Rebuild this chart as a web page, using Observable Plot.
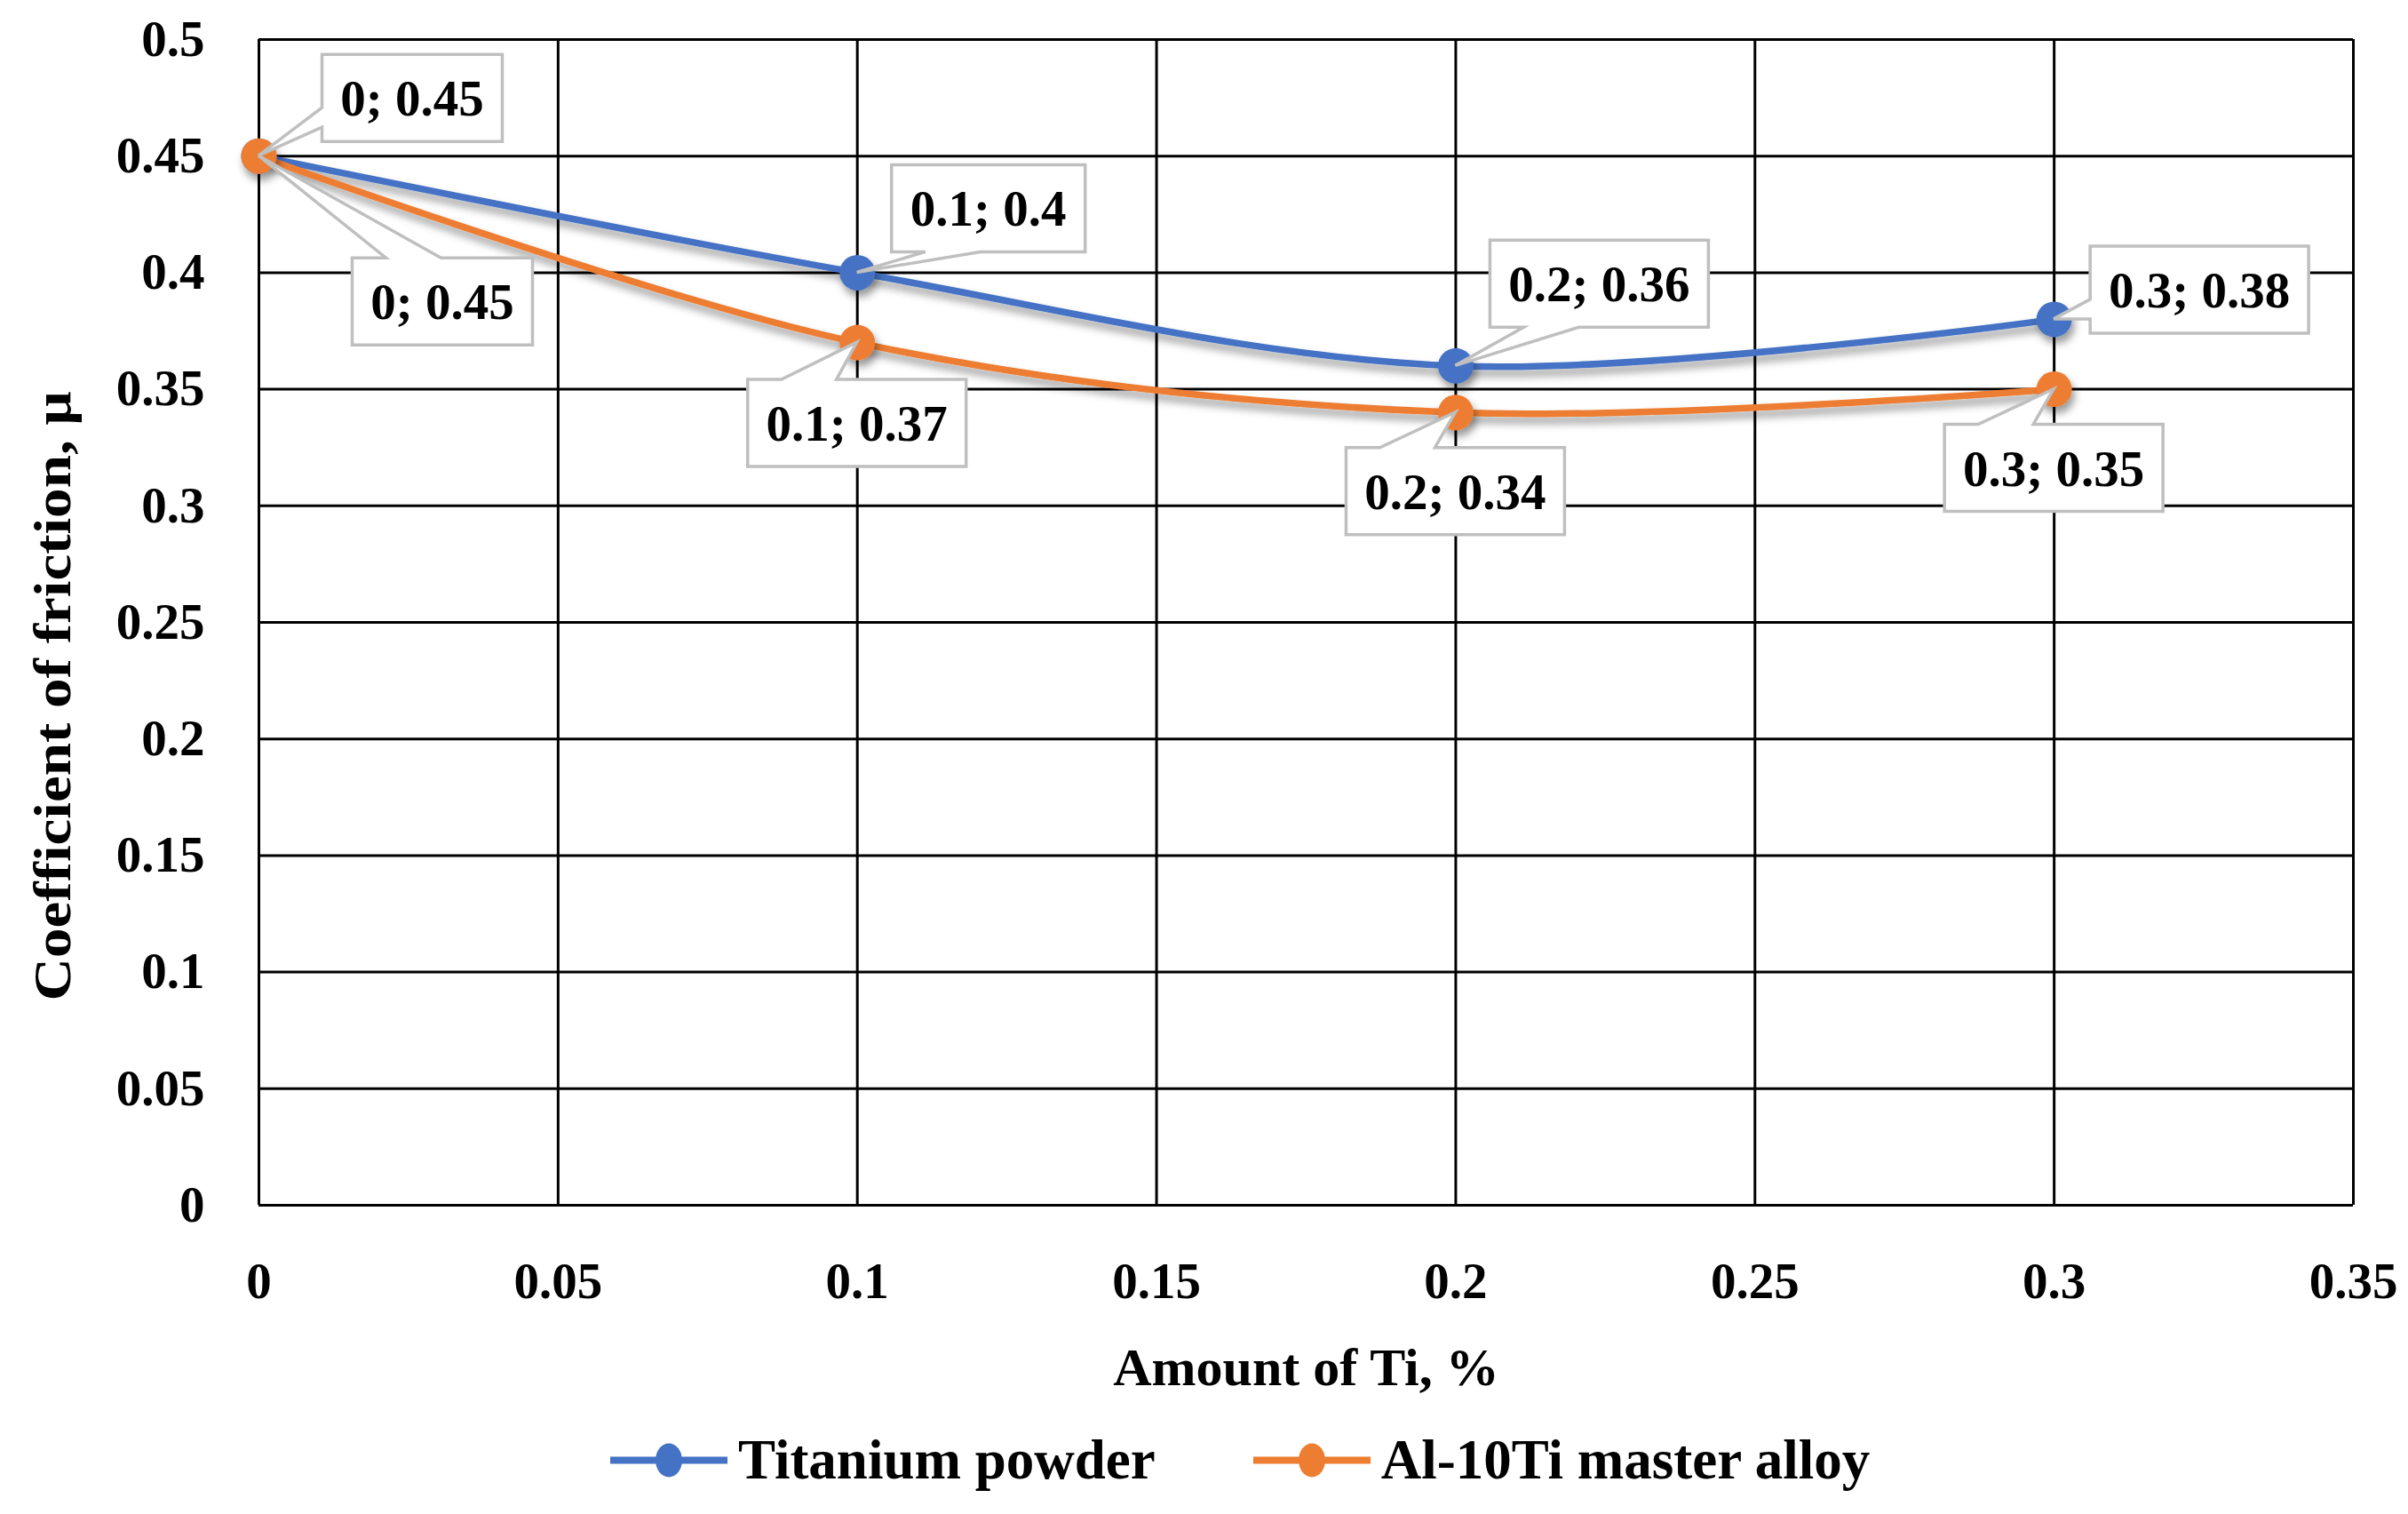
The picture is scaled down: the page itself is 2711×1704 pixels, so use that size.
<!DOCTYPE html>
<html>
<head>
<meta charset="utf-8">
<title>Coefficient of friction vs. amount of Ti</title>
<script src="https://cdn.jsdelivr.net/npm/d3@7"></script>
<script src="https://cdn.jsdelivr.net/npm/@observablehq/plot@0.6"></script>
<style>
  html, body { margin: 0; padding: 0; background: #fff; }
  body { width: 2711px; height: 1704px; position: relative; overflow: hidden;
         font-family: "Liberation Serif", "Times New Roman", serif; font-weight: bold; }
  #chart svg { display: block; }
  #legend { position: absolute; left: 687px; top: 1643px; transform: translateY(-50%);
            display: flex; align-items: center; font-size: 63px; color: #000; white-space: nowrap; }
  #legend .item { display: flex; align-items: center; }
  #legend .item + .item { margin-left: 110px; }
  #legend svg { display: block; margin-right: 12px; overflow: visible; }
</style>
</head>
<body>
<div id="chart"></div>
<div id="legend"></div>
<script>
// Amount of Ti added (%)
const amounts = [0, 0.1, 0.2, 0.3];
// Coefficient of friction for each way of adding Ti
const titaniumPowder = [0.45, 0.4, 0.36, 0.38];
const al10TiAlloy = [0.45, 0.37, 0.34, 0.35];
const seriesNames = ["Titanium powder", "Al-10Ti master alloy"];
const seriesColors = ["#4472C4", "#ED7D31"];
// Axis ticks
const xTicks = [0, 0.05, 0.1, 0.15, 0.2, 0.25, 0.3, 0.35];
const yTicks = [0, 0.05, 0.1, 0.15, 0.2, 0.25, 0.3, 0.35, 0.4, 0.45, 0.5];
const xTitle = "Amount of Ti, %";
const yTitle = "Coefficient of friction, \u03bc";

const seriesValues = [titaniumPowder, al10TiAlloy];
const rows = seriesNames.flatMap((name, s) =>
  amounts.map((amount, i) => ({series: name, amount, mu: seriesValues[s][i]}))
);

// Where each data-label callout sits relative to its point (box-centre offset, in px)
// and which edge of the box its pointer leaves from.
const calloutLayout = {
  "Titanium powder": [
    {dx: 173, dy: -65, side: "left"},
    {dx: 148, dy: -72, side: "bottom"},
    {dx: 162, dy: -92, side: "bottom"},
    {dx: 164, dy: -33, side: "left"}
  ],
  "Al-10Ti master alloy": [
    {dx: 207, dy: 164, side: "top"},
    {dx: 0, dy: 91, side: "top"},
    {dx: 0, dy: 89, side: "top"},
    {dx: 0, dy: 89, side: "top"}
  ]
};

const W = 2711, H = 1590;
const LABEL_FONT = 57;

// Excel-style data callouts: white box with a grey outline and a pointer to the point
function callouts(index, scales) {
  const ctx = document.createElement("canvas").getContext("2d");
  ctx.font = `bold ${LABEL_FONT}px "Liberation Serif"`;
  const g = d3.create("svg:g").attr("aria-label", "callouts");
  for (const r of rows) {
    const px = scales.x(r.amount), py = scales.y(r.mu);
    const place = calloutLayout[r.series][amounts.indexOf(r.amount)];
    const label = `${r.amount}; ${r.mu}`;
    const w = Math.round(ctx.measureText(label).width) + 42, h = 98;
    const cx = px + place.dx, cy = py + place.dy;
    const L = cx - w / 2, R = cx + w / 2, T = cy - h / 2, B = cy + h / 2;
    let d = `M${L},${T}`;
    if (place.side === "top") d += `L${L + 38},${T}L${px},${py}L${L + 100},${T}`;
    d += `L${R},${T}L${R},${B}`;
    if (place.side === "bottom") d += `L${L + 100},${B}L${px},${py}L${L + 38},${B}`;
    d += `L${L},${B}`;
    if (place.side === "left") d += `L${L},${T + 82}L${px},${py}L${L},${T + 60}`;
    d += "Z";
    g.append("path")
      .attr("d", d)
      .attr("fill", "#fff")
      .attr("stroke", "#bfbfbf")
      .attr("stroke-width", 3.5);
    g.append("text")
      .attr("x", cx)
      .attr("y", cy)
      .attr("dy", "0.35em")
      .attr("text-anchor", "middle")
      .attr("font-size", LABEL_FONT)
      .attr("fill", "#000")
      .text(label);
  }
  return g.node();
}

const plot = Plot.plot({
  width: W,
  height: H,
  marginLeft: 291,
  marginRight: 62,
  marginTop: 44,
  marginBottom: H - 1356,
  style: "font-family: 'Liberation Serif', 'Times New Roman', serif; font-weight: bold; font-size: 57px; color: #000; background: #fff; overflow: visible;",
  x: {domain: [0, 0.35], ticks: xTicks, tickFormat: d => String(d), tickSize: 0, tickPadding: 64, label: null},
  y: {domain: [0, 0.5], ticks: yTicks, tickFormat: d => String(d), tickSize: 0, tickPadding: 61, label: null},
  color: {domain: seriesNames, range: seriesColors},
  marks: [
    Plot.ruleY(yTicks, {stroke: "#000", strokeWidth: 3}),
    Plot.ruleX(xTicks, {stroke: "#000", strokeWidth: 3}),
    Plot.line(rows, {x: "amount", y: "mu", z: "series", stroke: "series", strokeWidth: 7.5, curve: "catmull-rom"}),
    Plot.dot(rows, {x: "amount", y: "mu", fill: "series", r: 20}),
    callouts,
    Plot.text([xTitle], {frameAnchor: "bottom", dy: 183, lineAnchor: "middle", textAnchor: "middle",
                         text: d => d, fontSize: 60, fill: "#000"}),
    Plot.text([yTitle], {frameAnchor: "left", dx: -232, dy: 83, rotate: -90, lineAnchor: "middle", textAnchor: "middle",
                         text: d => d, fontSize: 60, fill: "#000"})
  ]
});

// Soft drop shadow under the series lines and markers
const svg = d3.select(plot);
svg.insert("defs", ":first-child")
  .append("filter")
  .attr("id", "series-shadow")
  .attr("x", "-10%").attr("y", "-20%").attr("width", "130%").attr("height", "160%")
  .append("feDropShadow")
  .attr("dx", 3).attr("dy", 7).attr("stdDeviation", 5)
  .attr("flood-color", "#000").attr("flood-opacity", 0.4);
svg.selectAll('g[aria-label="line"], g[aria-label="dot"]').attr("filter", "url(#series-shadow)");
// Stretch the vertical axis title to its full run
svg.selectAll("text").filter(function () { return this.textContent === yTitle; })
  .attr("textLength", 686).attr("lengthAdjust", "spacingAndGlyphs");

document.getElementById("chart").appendChild(plot);

// Legend below the chart
const legend = d3.select("#legend");
seriesNames.forEach((name, i) => {
  const item = legend.append("div").attr("class", "item");
  const sw = item.append("svg").attr("width", 132).attr("height", 44);
  sw.append("line").attr("x1", 0).attr("x2", 132).attr("y1", 22).attr("y2", 22)
    .attr("stroke", seriesColors[i]).attr("stroke-width", 8);
  sw.append("ellipse").attr("cx", 66).attr("cy", 22).attr("rx", 15).attr("ry", 19)
    .attr("fill", seriesColors[i]);
  item.append("span").text(name);
});
</script>
</body>
</html>
